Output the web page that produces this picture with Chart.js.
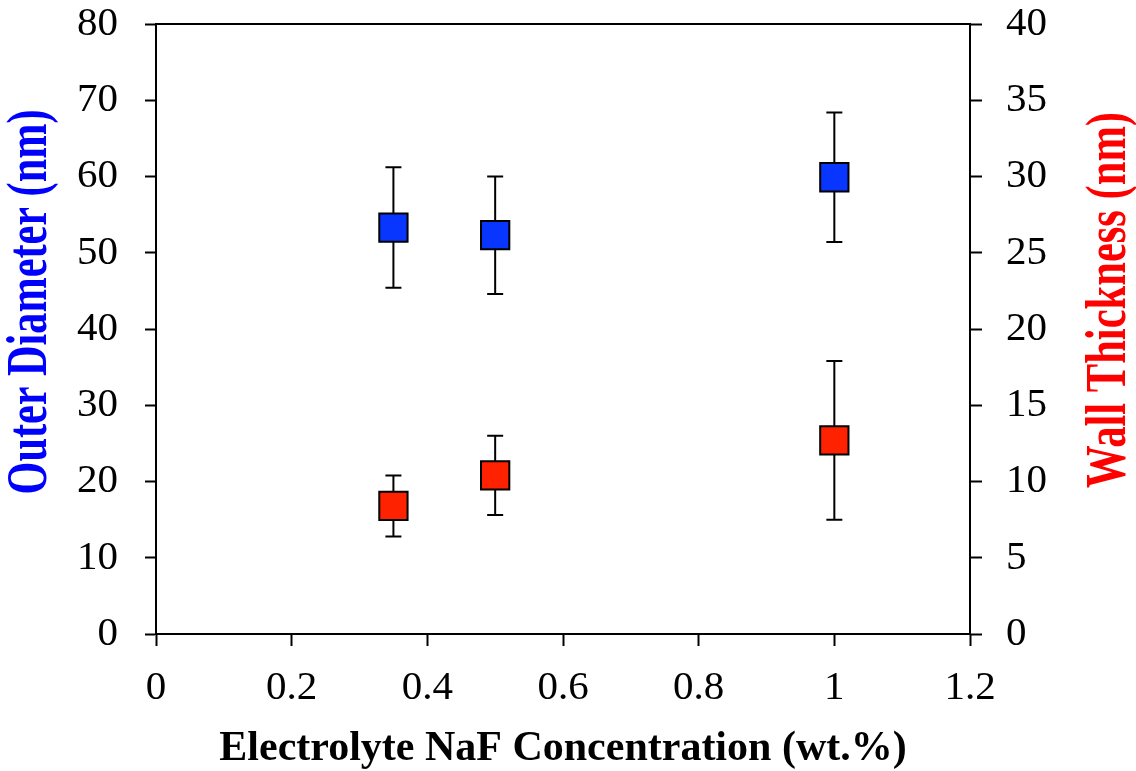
<!DOCTYPE html>
<html>
<head>
<meta charset="utf-8">
<script src="https://cdn.jsdelivr.net/npm/chart.js@4.4.1/dist/chart.umd.min.js"></script>
<style>
  html, body { margin: 0; padding: 0; background: #ffffff; }
  #wrap { width: 1136px; height: 771px; }
</style>
</head>
<body>
<div id="wrap"><canvas id="naf"></canvas></div>
<script>
// data
const concentration = [0.35, 0.5, 1.0];
const outerDiameter = [53.3, 52.3, 59.9];
const outerDiameterErr = [7.9, 7.7, 8.5];
const wallThickness = [8.4, 10.4, 12.7];
const wallThicknessErr = [2.0, 2.6, 5.2];

// tick labels
const xTicks = [0, 0.2, 0.4, 0.6, 0.8, 1, 1.2];
const leftTicks = [0, 10, 20, 30, 40, 50, 60, 70, 80];
const rightTicks = [0, 5, 10, 15, 20, 25, 30, 35, 40];

const serif = "'Liberation Serif', 'Times New Roman', serif";

function setTicks(values) {
    return function(scale) {
        scale.ticks = values.map(v => ({ value: v }));
    };
}

// fixed axis box sizes, and no extra label padding pushing the plot area in
function fixWidth(w) {
    return function(scale) {
        scale.width = w;
        scale.paddingTop = 0;
        scale.paddingBottom = 0;
    };
}

// error bars (drawn under the markers) + top border + vertical titles
const decorations = {
    id: 'decorations',
    beforeDatasetsDraw(chart) {
        const ctx = chart.ctx;
        const x = chart.scales.x;
        ctx.save();
        ctx.strokeStyle = '#000';
        ctx.lineWidth = 2;
        chart.data.datasets.forEach(ds => {
            const y = chart.scales[ds.yAxisID];
            ds.data.forEach((pt, i) => {
                const px = x.getPixelForValue(pt.x);
                const top = y.getPixelForValue(pt.y + ds.errors[i]);
                const bot = y.getPixelForValue(pt.y - ds.errors[i]);
                ctx.beginPath();
                ctx.moveTo(px, top); ctx.lineTo(px, bot);
                ctx.moveTo(px - 8, top); ctx.lineTo(px + 8, top);
                ctx.moveTo(px - 8, bot); ctx.lineTo(px + 8, bot);
                ctx.stroke();
            });
        });
        // top frame line
        const a = chart.chartArea;
        ctx.beginPath();
        ctx.moveTo(a.left - 1, a.top);
        ctx.lineTo(a.right + 1, a.top);
        ctx.stroke();
        ctx.restore();
    },
    afterDraw(chart) {
        const ctx = chart.ctx;
        const titles = [
            { text: 'Outer Diameter (nm)', color: '#0000ff', x: 32, y: 302, len: 385 },
            { text: 'Wall Thickness (nm)', color: '#ff0000', x: 1111, y: 300, len: 376 }
        ];
        titles.forEach(t => {
            ctx.save();
            ctx.font = 'bold 56px ' + serif;
            ctx.fillStyle = t.color;
            ctx.textAlign = 'center';
            ctx.textBaseline = 'middle';
            const w = ctx.measureText(t.text).width;
            ctx.translate(t.x, t.y);
            ctx.rotate(-Math.PI / 2);
            ctx.scale(Math.min(1, t.len / w), 1);
            ctx.fillText(t.text, 0, 0);
            ctx.restore();
        });
    }
};

const tickFont = { family: serif, size: 41, lineHeight: 1 };

new Chart(document.getElementById('naf'), {
    type: 'scatter',
    data: {
        datasets: [
            {
                label: 'Outer Diameter',
                data: concentration.map((c, i) => ({ x: c, y: outerDiameter[i] })),
                errors: outerDiameterErr,
                yAxisID: 'y',
                pointStyle: 'rect',
                pointRadius: 20,
                pointHoverRadius: 20,
                backgroundColor: '#0836ff',
                borderColor: '#000000',
                borderWidth: 2
            },
            {
                label: 'Wall Thickness',
                data: concentration.map((c, i) => ({ x: c, y: wallThickness[i] })),
                errors: wallThicknessErr,
                yAxisID: 'y2',
                pointStyle: 'rect',
                pointRadius: 20,
                pointHoverRadius: 20,
                backgroundColor: '#ff2200',
                borderColor: '#000000',
                borderWidth: 2
            }
        ]
    },
    options: {
        responsive: true,
        maintainAspectRatio: false,
        animation: false,
        layout: { padding: { top: 24, left: 0, right: 0, bottom: 0 } },
        plugins: {
            legend: { display: false },
            tooltip: { enabled: false }
        },
        scales: {
            x: {
                type: 'linear',
                min: 0,
                max: 1.2,
                afterBuildTicks: setTicks(xTicks),
                afterFit: scale => { scale.height = 137; },
                border: { display: true, color: '#000', width: 2 },
                grid: { drawOnChartArea: false, drawTicks: true, tickLength: 12, tickWidth: 2, tickColor: '#000' },
                ticks: {
                    color: '#000',
                    padding: 22,
                    maxRotation: 0,
                    autoSkip: false,
                    font: tickFont,
                    callback: value => String(value)
                },
                title: {
                    display: true,
                    text: 'Electrolyte NaF Concentration (wt.%)',
                    color: '#000',
                    padding: { top: 0, bottom: 1 },
                    font: { family: serif, size: 42, weight: 'bold', lineHeight: 1 }
                }
            },
            y: {
                type: 'linear',
                position: 'left',
                min: 0,
                max: 80,
                afterBuildTicks: setTicks(leftTicks),
                afterFit: fixWidth(156),
                border: { display: true, color: '#000', width: 2 },
                grid: { drawOnChartArea: false, drawTicks: true, tickLength: 11, tickWidth: 2, tickColor: '#000' },
                ticks: {
                    color: '#000',
                    padding: 27,
                    autoSkip: false,
                    font: tickFont,
                    callback: value => String(value)
                }
            },
            y2: {
                type: 'linear',
                position: 'right',
                min: 0,
                max: 40,
                afterBuildTicks: setTicks(rightTicks),
                afterFit: fixWidth(166),
                border: { display: true, color: '#000', width: 2 },
                grid: { drawOnChartArea: false, drawTicks: true, tickLength: 12, tickWidth: 2, tickColor: '#000' },
                ticks: {
                    color: '#000',
                    padding: 24,
                    autoSkip: false,
                    font: tickFont,
                    callback: value => String(value)
                }
            }
        }
    },
    plugins: [decorations]
});
</script>
</body>
</html>
